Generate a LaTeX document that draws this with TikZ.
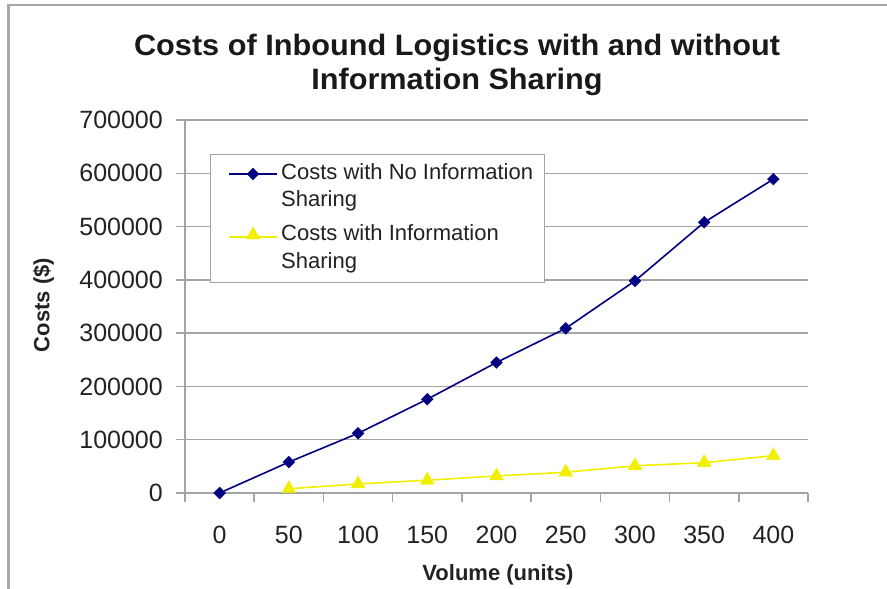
\documentclass[tikz,border=0pt]{standalone}
\usepackage{fontspec}
\setmainfont{Liberation Sans}
\usetikzlibrary{shapes.geometric}
\definecolor{gridgray}{HTML}{A4A4A4}
\definecolor{framegray}{HTML}{A8A8A8}
\definecolor{navyline}{HTML}{000080}
\definecolor{yellowline}{HTML}{F0F000}
\definecolor{inkgray}{HTML}{222222}
\begin{document}
\begin{tikzpicture}[x=1pt,y=-1pt,
  gridline/.style={draw=gridgray,line width=1.4pt},
  axisline/.style={draw=gridgray,line width=1.6pt},
  ticklbl/.style={font=\fontsize{25}{25}\selectfont,text=inkgray,inner sep=0pt},
  axistitle/.style={font=\bfseries\fontsize{22}{22}\selectfont,text=inkgray,inner sep=0pt},
  charttitle/.style={font=\bfseries\fontsize{29.5}{29.5}\selectfont,text=black!90,inner sep=0pt,xscale=1.04},
  legtext/.style={font=\fontsize{22}{22}\selectfont,text=inkgray,inner sep=0pt,anchor=base west},
  bluemark/.style={diamond,fill=navyline,draw=navyline,inner sep=0pt,minimum size=12pt},
  yellowmark/.style={regular polygon,regular polygon sides=3,fill=yellowline,draw=yellowline,inner sep=0pt,minimum size=16pt},
  blueseries/.style={draw=navyline,line width=1.6pt},
  yellowseries/.style={draw=yellowline,line width=1.6pt}]
\useasboundingbox (0,0) rectangle (887,589);

% outer frame (top and left edges)
\draw[framegray,line width=2.6pt] (8.5,589) -- (8.5,5) -- (887,5);

% title
\node[charttitle,anchor=base] (title1) at (457,55) {Costs of Inbound Logistics with and without};
\node[charttitle,anchor=base] (title2) at (457,89) {Information Sharing};

% horizontal gridlines and value labels (values in thousands)
\foreach \v/\lab in {0/0,100/100000,200/200000,300/300000,400/400000,500/500000,600/600000,700/700000}{
  \pgfmathsetmacro\yy{493-\v*0.532857}
  \draw[gridline] (176,\yy) -- (808,\yy);
  \node[ticklbl,anchor=east] (ylab\v) at (163,\yy) {\lab};
}

% axes
\draw[axisline] (185,120) -- (185,502);
\draw[axisline] (176,493) -- (808,493);
\foreach \k in {0,...,9}{
  \draw[axisline] ({185+\k*69.222},493) -- ({185+\k*69.222},502);
}

% category labels
\foreach \c [count=\i from 0] in {0,50,100,150,200,250,300,350,400}{
  \node[ticklbl,anchor=base] (xlab\c) at ({185+(\i+0.5)*69.222},543) {\c};
}

% axis titles
\node[axistitle,rotate=90] (ytitle) at (43.5,305) {Costs (\$)};
\node[axistitle,anchor=base] (xtitle) at (498,580) {Volume (units)};

% series without information sharing
\foreach \v [count=\i from 0] in {0,58,112,176,245,309,398,508,589}{
  \node[bluemark] (b\i) at ({185+(\i+0.5)*69.222},{493-\v*0.532857}) {};
}
\foreach \i [evaluate=\i as \j using int(\i+1)] in {0,...,7}{
  \draw[blueseries] (b\i) -- (b\j);
}

% series with information sharing
\foreach \v [count=\i from 1] in {8,17,24,32,39,51,57,70}{
  \node[yellowmark] (y\i) at ({185+(\i+0.5)*69.222},{493-\v*0.532857}) {};
}
\foreach \i [evaluate=\i as \j using int(\i+1)] in {1,...,7}{
  \draw[yellowseries] (y\i) -- (y\j);
}

% legend
\node[draw=gridgray,line width=1.3pt,fill=white,minimum width=334pt,minimum height=128pt,anchor=north west,inner sep=0pt] (legend) at (210,154) {};
\coordinate (l1a) at (229,174);
\coordinate (l1b) at (277,174);
\draw[blueseries] (l1a) -- (l1b);
\node[bluemark] (lm1) at (253,174) {};
\node[legtext] (lt1a) at (281,179) {Costs with No Information};
\node[legtext] (lt1b) at (281,206) {Sharing};
\coordinate (l2a) at (229,237);
\coordinate (l2b) at (277,237);
\draw[yellowseries] (l2a) -- (l2b);
\node[yellowmark] (lm2) at (253,235) {};
\node[legtext] (lt2a) at (281,240) {Costs with Information};
\node[legtext] (lt2b) at (281,268) {Sharing};
\end{tikzpicture}
\end{document}
